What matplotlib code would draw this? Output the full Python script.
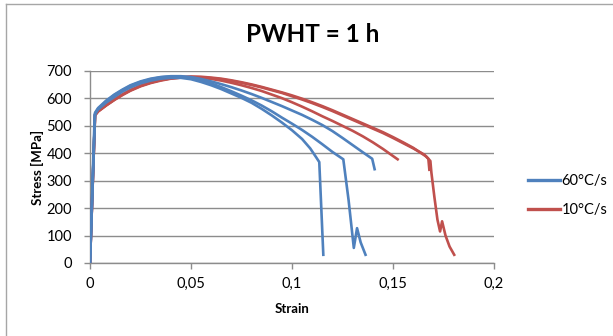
import matplotlib
matplotlib.use("Agg")
import matplotlib.pyplot as plt
from matplotlib.lines import Line2D

plt.rcParams['font.family'] = ['Lato', 'DejaVu Sans']

# Tensile test curves (strain, stress in MPa)
blue_1_strain = [0, 0.0023, 0.004, 0.008, 0.012, 0.016, 0.02, 0.025, 0.03, 0.035, 0.04, 0.045,
                 0.05, 0.055, 0.06, 0.065, 0.07, 0.075, 0.08, 0.085, 0.09, 0.095, 0.1, 0.105,
                 0.109, 0.112, 0.1135, 0.1145, 0.1155]
blue_1_stress = [0, 540, 560, 585, 605, 625, 640, 655, 665, 672, 675, 675,
                 670, 660, 648, 634, 618, 602, 584, 562, 538, 512, 484, 452,
                 418, 385, 368, 200, 30]

blue_2_strain = [0, 0.0025, 0.004, 0.008, 0.012, 0.016, 0.02, 0.025, 0.03, 0.035, 0.04, 0.045,
                 0.05, 0.055, 0.06, 0.065, 0.07, 0.075, 0.08, 0.085, 0.09, 0.095, 0.1, 0.105,
                 0.11, 0.115, 0.12, 0.1254, 0.128, 0.1306, 0.1322, 0.134, 0.1364]
blue_2_stress = [0, 545, 562, 590, 612, 630, 646, 660, 670, 677, 680, 679,
                 675, 666, 655, 641, 626, 610, 593, 574, 553, 530, 508, 485,
                 460, 433, 405, 378, 230, 55, 127, 75, 30]

blue_3_strain = [0, 0.0025, 0.004, 0.008, 0.012, 0.016, 0.02, 0.025, 0.03, 0.035, 0.04, 0.045,
                 0.05, 0.055, 0.06, 0.065, 0.07, 0.075, 0.08, 0.085, 0.09, 0.095, 0.1, 0.105,
                 0.11, 0.115, 0.12, 0.125, 0.13, 0.135, 0.1397, 0.1409]
blue_3_stress = [0, 548, 565, 592, 614, 632, 648, 662, 672, 678, 681, 681,
                 678, 671, 662, 652, 641, 629, 616, 602, 587, 572, 556, 540,
                 522, 503, 481, 456, 430, 404, 380, 342]

red_1_strain = [0, 0.0025, 0.004, 0.008, 0.012, 0.016, 0.02, 0.025, 0.03, 0.035, 0.04, 0.045,
                0.05, 0.055, 0.06, 0.065, 0.07, 0.075, 0.08, 0.085, 0.09, 0.095, 0.1, 0.105,
                0.11, 0.115, 0.12, 0.125, 0.13, 0.135, 0.14, 0.145, 0.1523]
red_1_stress = [0, 540, 553, 575, 595, 614, 630, 646, 658, 667, 673, 676,
                677, 675, 671, 665, 657, 648, 638, 627, 614, 601, 586, 570,
                553, 535, 518, 500, 482, 462, 440, 416, 378]

red_2_strain = [0, 0.0025, 0.004, 0.008, 0.012, 0.016, 0.02, 0.025, 0.03, 0.035, 0.04, 0.045,
                0.05, 0.055, 0.06, 0.065, 0.07, 0.075, 0.08, 0.085, 0.09, 0.095, 0.1, 0.105,
                0.11, 0.115, 0.12, 0.125, 0.13, 0.135, 0.14, 0.145, 0.15, 0.155, 0.16,
                0.1655, 0.1675, 0.168]
red_2_stress = [0, 538, 552, 574, 594, 612, 628, 644, 656, 665, 672, 676,
                678, 677, 674, 670, 664, 657, 649, 640, 630, 620, 608, 596,
                583, 569, 554, 538, 522, 506, 490, 474, 456, 437, 418,
                395, 380, 340]

red_3_strain = [0, 0.0025, 0.004, 0.008, 0.012, 0.016, 0.02, 0.025, 0.03, 0.035, 0.04, 0.045,
                0.05, 0.055, 0.06, 0.065, 0.07, 0.075, 0.08, 0.085, 0.09, 0.095, 0.1, 0.105,
                0.11, 0.115, 0.12, 0.125, 0.13, 0.135, 0.14, 0.145, 0.15, 0.155, 0.16,
                0.1665, 0.1685, 0.169, 0.1705, 0.172, 0.1733, 0.1743, 0.176, 0.178, 0.1803]
red_3_stress = [0, 540, 554, 576, 596, 614, 630, 646, 658, 667, 674, 678,
                680, 679, 676, 672, 666, 659, 651, 642, 632, 622, 611, 599,
                586, 572, 557, 541, 525, 509, 493, 477, 459, 440, 420,
                388, 372, 330, 240, 158, 115, 152, 100, 60, 30]

series_labels = ["60°C/s", "10°C/s"]
x_ticks = [0, 0.05, 0.1, 0.15, 0.2]
x_tick_labels = ["0", "0,05", "0,1", "0,15", "0,2"]
y_ticks = [0, 100, 200, 300, 400, 500, 600, 700]

blue = "#4F81BD"
red = "#C0504D"
grid_gray = "#8C8C8C"
lw = 1.9

fig = plt.figure(figsize=(6.13, 3.36), dpi=100)
ax = fig.add_axes([90 / 613, 1 - 263 / 336, 404 / 613, 192 / 336])

for xs, ys in [(red_1_strain, red_1_stress), (red_2_strain, red_2_stress),
               (red_3_strain, red_3_stress)]:
    ax.plot(xs, ys, color=red, lw=lw, solid_joinstyle="round", zorder=3)
for xs, ys in [(blue_1_strain, blue_1_stress), (blue_2_strain, blue_2_stress),
               (blue_3_strain, blue_3_stress)]:
    ax.plot(xs, ys, color=blue, lw=lw, solid_joinstyle="round", zorder=4)

ax.set_xlim(0, 0.2)
ax.set_ylim(0, 700)
ax.set_xticks(x_ticks)
ax.set_xticklabels(x_tick_labels)
ax.set_yticks(y_ticks)
ax.yaxis.grid(True, color=grid_gray, lw=1.0)
ax.set_axisbelow(True)
for s in ["top", "right"]:
    ax.spines[s].set_visible(False)
for s in ["left", "bottom"]:
    ax.spines[s].set_color(grid_gray)
    ax.spines[s].set_linewidth(1.0)
ax.tick_params(axis="both", colors=grid_gray, length=4, width=1.0,
               labelcolor="black", labelsize=10.5)
ax.tick_params(axis="x", pad=6)
ax.tick_params(axis="y", pad=9)

ax.set_xlabel("Strain", fontsize=9.5, fontweight="bold", labelpad=9)
ax.set_ylabel("Stress [MPa]", fontsize=9.5, fontweight="bold", labelpad=2)
fig.text(313 / 613, 1 - 35 / 336, "PWHT = 1 h", fontsize=17.5, fontweight="bold",
         ha="center", va="center")

handles = [Line2D([], [], color=blue, lw=2.4), Line2D([], [], color=red, lw=2.4)]
fig.legend(handles, series_labels, loc="center left",
           bbox_to_anchor=(528 / 613, 1 - 195.5 / 336), frameon=False,
           fontsize=10.5, handlelength=2.2, handletextpad=0.1, labelspacing=1.0,
           borderpad=0, borderaxespad=0)

# chart area border
fig.add_artist(Line2D([6 / 613, 1], [1 - 4 / 336, 1 - 4 / 336],
                      transform=fig.transFigure, color="#A6A6A6", lw=1.0))
fig.add_artist(Line2D([6 / 613, 6 / 613], [0, 1 - 4 / 336],
                      transform=fig.transFigure, color="#A6A6A6", lw=1.0))

fig.savefig("out.png", dpi=100)
